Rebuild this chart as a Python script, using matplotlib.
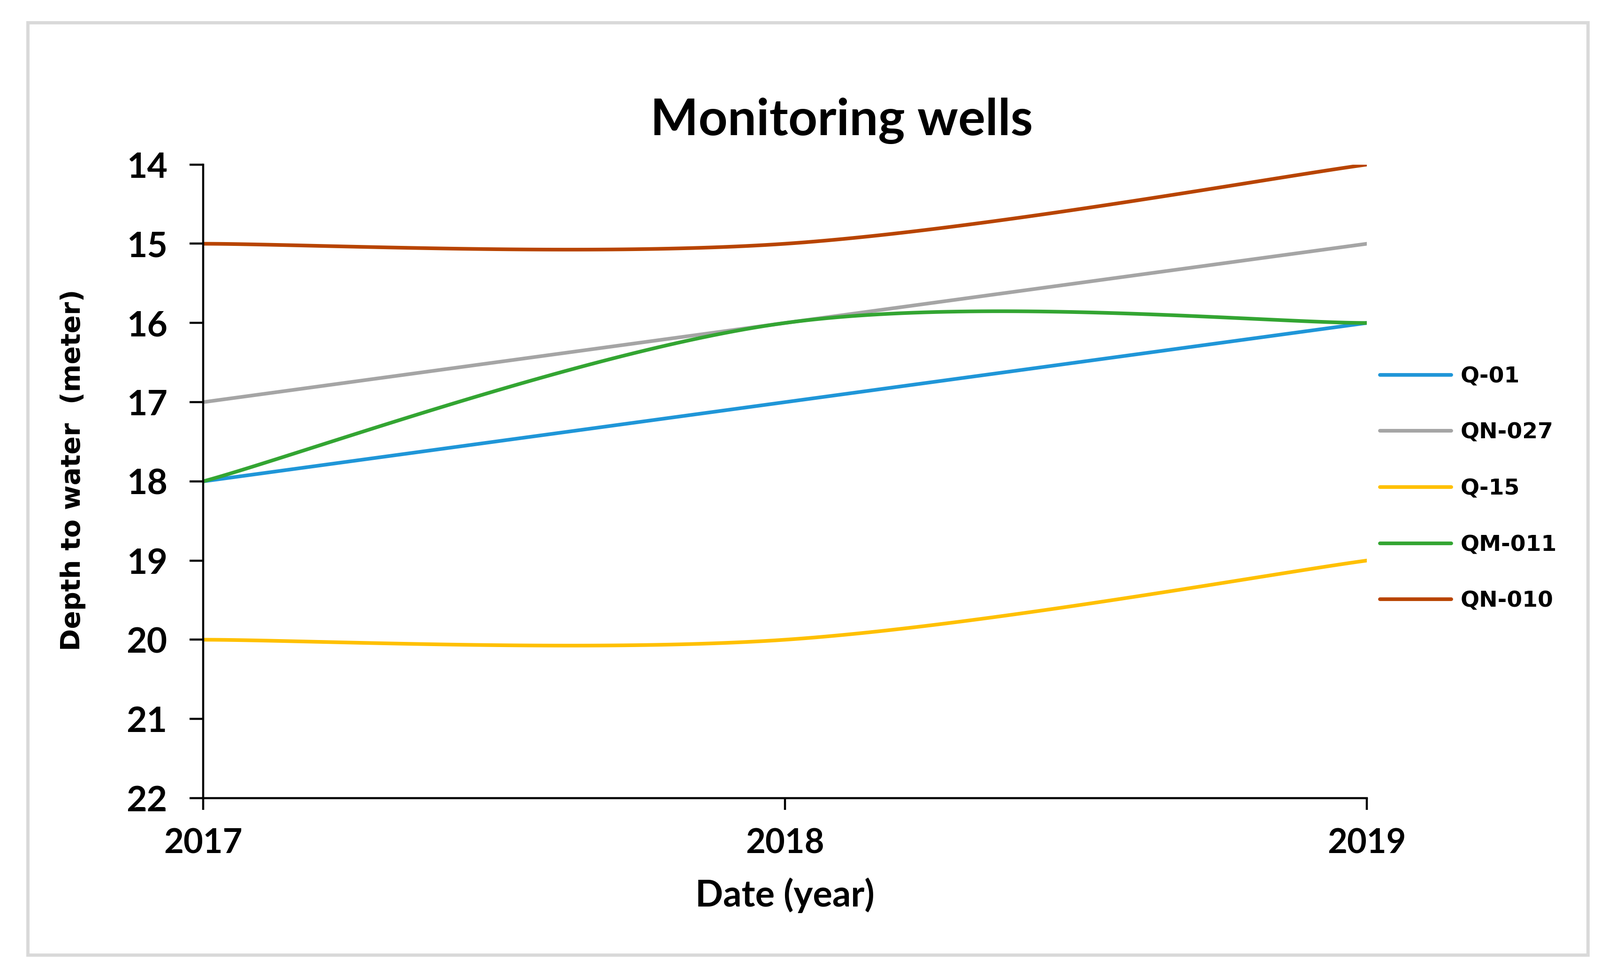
import numpy as np
import matplotlib
matplotlib.use("Agg")
import matplotlib.pyplot as plt
from matplotlib.patches import Rectangle

years = [2017, 2018, 2019]
series_names = ["Q-01", "QN-027", "Q-15", "QM-011", "QN-010"]
q01 = [18, 17, 16]
qn027 = [17, 16, 15]
q15 = [20, 20, 19]
qm011 = [18, 16, 16]
qn010 = [15, 15, 14]
colors = ["#1f96d8", "#a5a5a5", "#ffc000", "#33a532", "#b84400"]
yticks = [14, 15, 16, 17, 18, 19, 20, 21, 22]
xticks = [2017, 2018, 2019]


def excel_smooth(x, y, n=60):
    """Excel-style smoothed line: cubic Bezier through the points."""
    x = np.asarray(x, float)
    y = np.asarray(y, float)
    P = np.column_stack([x, y])
    m = len(P)
    out = []
    t = np.linspace(0, 1, n)
    for i in range(m - 1):
        p0 = P[i]
        p3 = P[i + 1]
        pm = P[i - 1] if i > 0 else P[i]
        pp = P[i + 2] if i + 2 < m else P[i + 1]
        c1 = p0 + (p3 - pm) / 6.0
        c2 = p3 - (pp - p0) / 6.0
        seg = ((1 - t)[:, None] ** 3 * p0 + 3 * ((1 - t) ** 2 * t)[:, None] * c1
               + 3 * ((1 - t) * t ** 2)[:, None] * c2 + (t ** 3)[:, None] * p3)
        out.append(seg if i == 0 else seg[1:])
    s = np.vstack(out)
    return s[:, 0], s[:, 1]


plt.rcParams['font.family'] = ['Lato', 'DejaVu Sans']

fig = plt.figure(figsize=(17.05, 10.315), dpi=200)
ax = fig.add_axes([0.127, 0.1755, 0.7273, 0.6545])

all_series = [q01, qn027, q15, qm011, qn010]
for name, vals, c in zip(series_names, all_series, colors):
    xs, ys = excel_smooth(years, vals)
    ax.plot(xs, ys, color=c, lw=2.8, label=name, solid_capstyle='round')

ax.set_xlim(2017, 2019)
ax.set_ylim(22, 14)
ax.set_yticks(yticks)
ax.set_xticks(xticks)
ax.set_yticklabels([str(v) for v in yticks], fontsize=27, fontweight='bold')
ax.set_xticklabels([str(v) for v in xticks], fontsize=26, fontweight='bold')
ax.tick_params(axis='y', direction='out', length=10.5, width=1.6, pad=17)
ax.tick_params(axis='x', direction='out', length=9, width=1.6, pad=14)
for s in ['top', 'right']:
    ax.spines[s].set_visible(False)
for s in ['left', 'bottom']:
    ax.spines[s].set_linewidth(1.6)
    ax.spines[s].set_color('black')

fig.text(0.526, 0.875, "Monitoring wells", fontsize=39, fontweight='bold',
         ha='center', va='center')
ax.set_xlabel("Date (year)", fontsize=28, fontweight='bold', labelpad=14)
ax.set_ylabel("Depth to water  (meter)", fontsize=20.5, fontweight='bold',
              family='DejaVu Sans')
ax.yaxis.set_label_coords(-0.101, 0.518)

ax.legend(loc='center left', bbox_to_anchor=(1.0, 0.488), frameon=False,
          handlelength=3.2, labelspacing=1.58, handletextpad=0.42,
          borderaxespad=0.2,
          prop={'weight': 'bold', 'size': 17, 'family': 'DejaVu Sans'})

fig.patches.append(Rectangle((59 / 3410, 1 - 2035 / 2063), (3384 - 59) / 3410, (2035 - 48) / 2063,
                             transform=fig.transFigure, fill=False, edgecolor='#d9d9d9', lw=2.5))

fig.savefig("out.png", dpi=200, facecolor='white')
